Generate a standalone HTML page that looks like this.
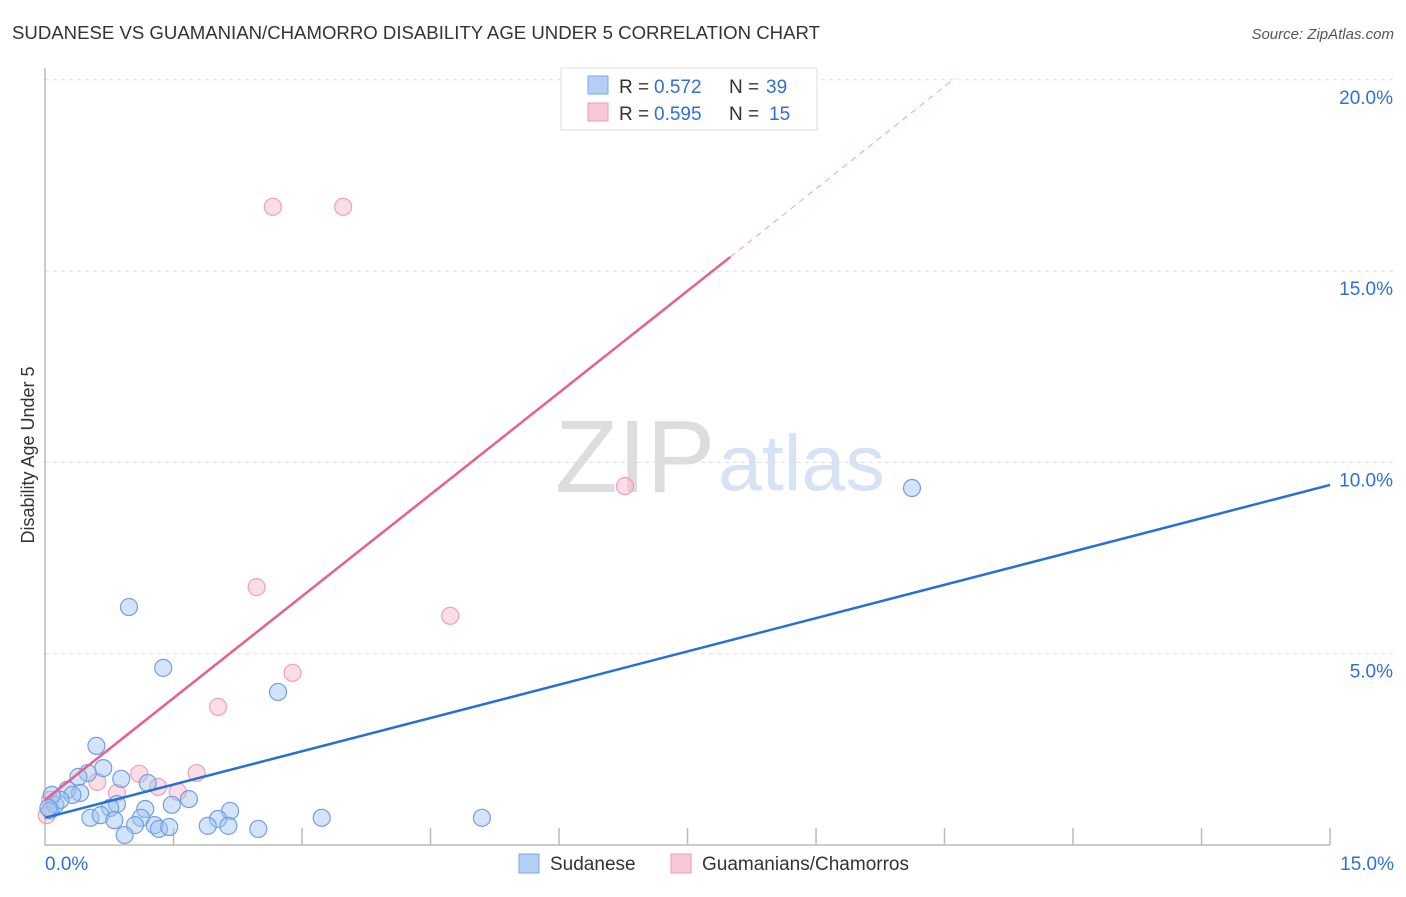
<!DOCTYPE html>
<html><head><meta charset="utf-8"><style>
body{margin:0;background:#fff;font-family:"Liberation Sans",sans-serif}
svg text{font-family:"Liberation Sans",sans-serif}
</style></head><body>
<svg id="c" width="1406" height="892">
<text x="12" y="39" font-size="18.6" fill="#333">SUDANESE VS GUAMANIAN/CHAMORRO DISABILITY AGE UNDER 5 CORRELATION CHART</text>
<text x="1394" y="39" font-size="15" fill="#555" font-style="italic" text-anchor="end">Source: ZipAtlas.com</text>
<text x="34" y="455" font-size="18" fill="#333" transform="rotate(-90 34 455)" text-anchor="middle">Disability Age Under 5</text>
<text x="555" y="492" font-size="103" fill="#ddd" font-family="Liberation Serif">ZIP</text>
<text x="718" y="490" font-size="79" fill="#d6e3f5">atlas</text>
<g id="grid"></g><g id="marks"></g>
<g>
<rect x="561" y="68" width="256" height="62" fill="#fff" stroke="#ddd"/>
<rect x="588" y="76" width="20" height="18" fill="#b3cff5" stroke="#7aaae8"/>
<text x="619" y="93" font-size="19" fill="#333">R =</text><text x="654" y="93" font-size="19" fill="#2f6fd6">0.572</text>
<text x="729" y="93" font-size="19" fill="#333">N =</text><text x="766" y="93" font-size="19" fill="#2f6fd6">39</text>
<rect x="588" y="103" width="20" height="18" fill="#f9c8d6" stroke="#ee9ab3"/>
<text x="619" y="120" font-size="19" fill="#333">R =</text><text x="654" y="120" font-size="19" fill="#2f6fd6">0.595</text>
<text x="729" y="120" font-size="19" fill="#333">N =</text><text x="769" y="120" font-size="19" fill="#2f6fd6">15</text>
</g>
<g>
<rect x="519" y="854" width="20" height="19" fill="#b3cff5" stroke="#7aaae8"/>
<text x="550" y="870" font-size="19" fill="#333">Sudanese</text>
<rect x="671" y="854" width="20" height="19" fill="#f9c8d6" stroke="#ee9ab3"/>
<text x="702" y="870" font-size="19" fill="#333">Guamanians/Chamorros</text>
</g>
</svg>
<script>
const yTicks=[5,10,15,20];
const yTickLabels=["5.0%","10.0%","15.0%","20.0%"];
const xTickLabels=["0.0%","15.0%"];
const blueX=[0.98,1.38,2.72,0.60,0.68,0.50,0.39,0.89,1.20,0.26,0.41,0.32,1.68,1.48,0.84,0.76,1.17,2.16,0.53,0.65,0.81,1.12,2.02,1.05,1.28,1.33,1.45,1.90,2.14,2.49,3.23,5.10,0.93,10.12,0.12,0.06,0.18,0.08,0.04];
const blueY=[6.22,4.63,4.00,2.59,2.01,1.88,1.78,1.73,1.62,1.44,1.36,1.31,1.20,1.05,1.07,0.97,0.94,0.89,0.71,0.78,0.65,0.71,0.68,0.52,0.52,0.42,0.47,0.50,0.50,0.42,0.71,0.71,0.26,9.33,1.05,0.91,1.18,1.31,0.97];
const pinkX=[2.66,3.48,6.77,2.47,4.73,2.89,2.02,1.10,1.77,0.61,1.32,1.55,0.84,0.06,0.02];
const pinkY=[16.68,16.68,9.38,6.74,5.99,4.50,3.61,1.86,1.88,1.65,1.52,1.39,1.36,1.18,0.78];
const blueTrend=[0.71,9.41];
const pinkTrend=[1.18,15.37,20.04];
const pinkTrendX=[0,8.0,10.62];
const X=v=>45+v*85.67, Y=v=>845-v*38.26;
const NS="http://www.w3.org/2000/svg";
function mk(t,a,p){const e=document.createElementNS(NS,t);for(const k in a)e.setAttribute(k,a[k]);p.appendChild(e);return e;}
const g=document.getElementById('grid'), m=document.getElementById('marks');
yTicks.forEach((t,i)=>{
 const l=mk('line',{x1:45,x2:1394,y1:Y(t),y2:Y(t),stroke:'#ddd','stroke-dasharray':'4,4'},g);
 
 
 const tx=mk('text',{x:1393,y:Y(t)+24,'font-size':19,fill:'#2f6fd6','text-anchor':'end'},g);
 tx.textContent=yTickLabels[i];
 
 
});
const ax=mk('path',{d:'M45 68V845H1330',fill:'none',stroke:'#bbb','stroke-width':1.5},g);


for(let i=1;i<=10;i++){const l=mk('line',{x1:X(i*1.5),x2:X(i*1.5),y1:828,y2:845,stroke:'#bbb','stroke-width':1.5},g);
 
 }
[[0,'start',45],[15,'end',1394]].forEach((d,i)=>{const t=mk('text',{x:d[2],y:870,'font-size':19,fill:'#2f6fd6','text-anchor':d[1]},g);t.textContent=xTickLabels[i];
 
 });
pinkX.forEach((x,i)=>{const c=mk('circle',{cx:X(x),cy:Y(pinkY[i]),r:8.5,fill:'rgba(246,180,200,0.45)',stroke:'#eea0b8','stroke-width':1.2},m);
 
 });
blueX.forEach((x,i)=>{const c=mk('circle',{cx:X(x),cy:Y(blueY[i]),r:8.5,fill:'rgba(160,195,240,0.45)',stroke:'#6fa0e6','stroke-width':1.2},m);
 
 });
const bl=mk('line',{x1:X(0),y1:Y(blueTrend[0]),x2:X(15),y2:Y(blueTrend[1]),stroke:'#2a6fd8','stroke-width':2.5},m);


const pl=mk('line',{x1:X(pinkTrendX[0]),y1:Y(pinkTrend[0]),x2:X(pinkTrendX[1]),y2:Y(pinkTrend[1]),stroke:'#e8608a','stroke-width':2.5},m);


const pd=mk('line',{x1:X(pinkTrendX[1]),y1:Y(pinkTrend[1]),x2:X(pinkTrendX[2]),y2:Y(pinkTrend[2]),stroke:'#eea0b8','stroke-width':1,'stroke-dasharray':'6,5'},m);


</script>
</body></html>
